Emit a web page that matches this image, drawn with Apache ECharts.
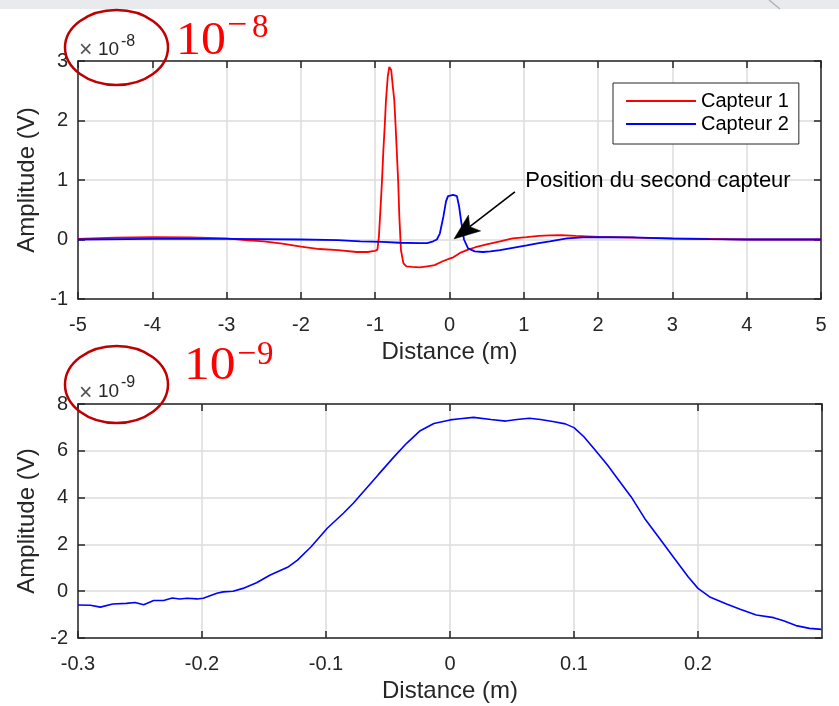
<!DOCTYPE html>
<html><head><meta charset="utf-8">
<script src="https://cdn.jsdelivr.net/npm/echarts@6/dist/echarts.min.js"></script>
<style>html,body{margin:0;padding:0;background:#fff}#c{width:839px;height:706px}</style>
</head><body><div id="c"></div>
<script>
// ---- data (top plot: amplitude in units of 1e-8 V) ----
const c1X = [-5, -4.5, -4, -3.5, -3, -2.75, -2.5, -2.25, -2, -1.75, -1.5, -1.25, -1.1, -1.03, -1.0, -0.97, -0.95, -0.935, -0.91, -0.89, -0.87, -0.855, -0.83, -0.81, -0.8, -0.785, -0.765, -0.743, -0.725, -0.71, -0.69, -0.675, -0.653, -0.62, -0.58, -0.5, -0.4, -0.3, -0.2, -0.1, 0, 0.05, 0.1, 0.15, 0.25, 0.35, 0.5, 0.68, 0.85, 1.04, 1.2, 1.35, 1.5, 1.7, 2.0, 2.5, 3.0, 3.5, 4.0, 4.5, 5.0];
const c1Y = [0.01, 0.03, 0.04, 0.035, 0.02, -0.01, -0.03, -0.07, -0.12, -0.16, -0.18, -0.21, -0.21, -0.195, -0.19, -0.17, 0.05, 0.38, 0.95, 1.5, 1.95, 2.34, 2.75, 2.9, 2.92, 2.85, 2.6, 2.34, 1.9, 1.5, 0.95, 0.38, -0.18, -0.4, -0.45, -0.46, -0.47, -0.45, -0.43, -0.37, -0.32, -0.3, -0.26, -0.22, -0.17, -0.13, -0.08, -0.03, 0.02, 0.04, 0.06, 0.07, 0.075, 0.06, 0.045, 0.03, 0.02, 0.01, 0.0, 0.0, 0.0];
const c2X = [-5, -4, -3, -2, -1.5, -1.2, -0.9, -0.67, -0.4, -0.3, -0.22, -0.17, -0.13, -0.083, -0.047, -0.02, 0.0, 0.05, 0.1, 0.13, 0.16, 0.195, 0.25, 0.34, 0.45, 0.55, 0.68, 0.85, 1.04, 1.2, 1.35, 1.58, 1.8, 2.03, 2.47, 3.0, 3.5, 4.0, 5.0];
const c2Y = [0.0, 0.01, 0.01, 0.0, -0.01, -0.03, -0.04, -0.055, -0.06, -0.06, -0.03, 0.0, 0.1, 0.38, 0.64, 0.73, 0.745, 0.75, 0.73, 0.55, 0.28, 0.0, -0.15, -0.2, -0.21, -0.2, -0.18, -0.14, -0.1, -0.06, -0.03, 0.02, 0.035, 0.04, 0.035, 0.015, 0.005, 0.0, 0.0];
// ---- data (bottom plot: amplitude in units of 1e-9 V) ----
const zoomX = [-0.3, -0.29, -0.282, -0.272, -0.261, -0.254, -0.247, -0.239, -0.231, -0.224, -0.218, -0.212, -0.204, -0.199, -0.188, -0.183, -0.175, -0.167, -0.156, -0.145, -0.131, -0.123, -0.112, -0.099, -0.086, -0.078, -0.069, -0.058, -0.045, -0.035, -0.024, -0.013, 0.0, 0.008, 0.019, 0.033, 0.045, 0.054, 0.064, 0.073, 0.084, 0.093, 0.1, 0.108, 0.116, 0.127, 0.135, 0.146, 0.157, 0.168, 0.181, 0.192, 0.2, 0.21, 0.223, 0.234, 0.247, 0.261, 0.269, 0.279, 0.29, 0.2995];
const zoomY = [-0.59, -0.6, -0.68, -0.55, -0.52, -0.48, -0.58, -0.4, -0.4, -0.29, -0.33, -0.3, -0.33, -0.3, -0.09, -0.03, 0.0, 0.12, 0.36, 0.69, 1.02, 1.33, 1.9, 2.69, 3.33, 3.76, 4.3, 4.97, 5.75, 6.32, 6.86, 7.17, 7.32, 7.37, 7.43, 7.34, 7.27, 7.34, 7.39, 7.34, 7.24, 7.15, 6.99, 6.6, 6.1, 5.39, 4.82, 4.04, 3.11, 2.33, 1.4, 0.62, 0.12, -0.26, -0.55, -0.77, -1.02, -1.13, -1.26, -1.47, -1.59, -1.63];
const seriesNames = ['Capteur 1', 'Capteur 2'];
const topExp = '-8', bottomExp = '-9';
const noteText = 'Position du second capteur';
const arrowTail = [0.88, 0.80], arrowTip = [0.06, 0.01], noteAnchor = [1.02, 0.98];

const FONT = "'Liberation Sans', Arial, Helvetica, sans-serif";
const INK = '#262626';
const pair = (xs, ys) => xs.map((x, i) => [x, ys[i]]);

function xAxes(gi, min, max, interval, showMax) {
  const line = { show: true, onZero: false, lineStyle: { color: INK, width: 1.5 } };
  const tick = { show: true, inside: true, length: 7, lineStyle: { color: INK, width: 1.5 } };
  return [{
    type: 'value', gridIndex: gi, position: 'bottom', min, max, interval,
    axisLine: line, axisTick: tick,
    axisLabel: { margin: 16, color: INK, fontSize: 20, fontFamily: FONT, showMinLabel: true, showMaxLabel: showMax, hideOverlap: false },
    splitLine: { show: true, lineStyle: { color: '#dcdcdc', width: 1.5 } },
    name: 'Distance (m)', nameLocation: 'middle', nameGap: 41,
    nameTextStyle: { fontSize: 24, color: INK, fontFamily: FONT }
  }, {
    type: 'value', gridIndex: gi, position: 'top', min, max, interval,
    axisLine: line, axisTick: tick, axisLabel: { show: false }, splitLine: { show: false }
  }];
}
function yAxes(gi, min, max, interval) {
  const line = { show: true, onZero: false, lineStyle: { color: INK, width: 1.5 } };
  const tick = { show: true, inside: true, length: 7, lineStyle: { color: INK, width: 1.5 } };
  return [{
    type: 'value', gridIndex: gi, position: 'left', min, max, interval,
    axisLine: line, axisTick: tick,
    axisLabel: { margin: 10, color: INK, fontSize: 20, fontFamily: FONT, showMinLabel: true, showMaxLabel: true, hideOverlap: false },
    splitLine: { show: true, lineStyle: { color: '#dcdcdc', width: 1.5 } },
    name: 'Amplitude (V)', nameLocation: 'middle', nameGap: 34,
    nameTextStyle: { fontSize: 24, color: INK, fontFamily: FONT }
  }, {
    type: 'value', gridIndex: gi, position: 'right', min, max, interval,
    axisLine: line, axisTick: tick, axisLabel: { show: false }, splitLine: { show: false }
  }];
}

const chart = echarts.init(document.getElementById('c'), null, { renderer: 'canvas' });
chart.setOption({
  animation: false,
  backgroundColor: '#ffffff',
  grid: [
    { left: 78, right: 18, top: 61, height: 238 },
    { left: 78, right: 17, top: 404, height: 234 }
  ],
  xAxis: [...xAxes(0, -5, 5, 1, true), ...xAxes(1, -0.3, 0.3, 0.1, false)],
  yAxis: [...yAxes(0, -1, 3, 1), ...yAxes(1, -2, 8, 2)],
  legend: {
    data: seriesNames, orient: 'vertical', left: 613, top: 83,
    padding: [8, 10, 10, 13], itemGap: 3, itemWidth: 70, itemHeight: 2, icon: 'rect',
    borderColor: INK, borderWidth: 1, backgroundColor: '#ffffff',
    textStyle: { fontSize: 20, color: '#000', fontFamily: FONT, lineHeight: 20 }
  },
  series: [
    { name: seriesNames[0], type: 'line', xAxisIndex: 0, yAxisIndex: 0, data: pair(c1X, c1Y), showSymbol: false, color: '#ff0000', lineStyle: { width: 1.8, color: '#ff0000' } },
    { name: seriesNames[1], type: 'line', xAxisIndex: 0, yAxisIndex: 0, data: pair(c2X, c2Y), showSymbol: false, color: '#0000ff', lineStyle: { width: 1.8, color: '#0000ff' } },
    { name: 'zoom', type: 'line', xAxisIndex: 2, yAxisIndex: 2, data: pair(zoomX, zoomY), showSymbol: false, color: '#0000ff', lineStyle: { width: 1.6, color: '#0000ff' } }
  ]
});

// ---- annotations ----
const P = (v) => chart.convertToPixel({ gridIndex: 0 }, v);
const tip = P(arrowTip), tail = P(arrowTail), note = P(noteAnchor);
const dx = tip[0] - tail[0], dy = tip[1] - tail[1], len = Math.hypot(dx, dy);
const ux = dx / len, uy = dy / len, nx = -uy, ny = ux;
const L = 26, W = 10, notch = 6;
const bx = tip[0] - ux * L, by = tip[1] - uy * L;
const head = [[tip[0], tip[1]], [bx + nx * W, by + ny * W], [tip[0] - ux * (L - notch), tip[1] - uy * (L - notch)], [bx - nx * W, by - ny * W]];

function txt(text, x, y, size, fam, fill, extra) {
  const el = { type: 'text', z: 100, silent: true, x, y, style: { text, x: 0, y: 0, font: size + 'px ' + fam, fill, align: 'left', verticalAlign: 'middle', textAlign: 'left', textVerticalAlign: 'middle' } };
  return Object.assign(el, extra || {});
}
const SERIF = "'Liberation Serif', 'Times New Roman', serif";
const g = [
  { type: 'rect', z: 100, silent: true, shape: { x: 0, y: 0, width: 839, height: 9 }, style: { fill: '#e9eaee' } },
  { type: 'line', z: 101, silent: true, shape: { x1: 769, y1: 0, x2: 780, y2: 9 }, style: { stroke: '#b4b4b4', lineWidth: 1.5 } },
  { type: 'ellipse', z: 100, silent: true, shape: { cx: 116.5, cy: 47.5, rx: 51.5, ry: 37.5 }, style: { fill: 'none', stroke: '#c00000', lineWidth: 2.5 } },
  { type: 'ellipse', z: 100, silent: true, shape: { cx: 116.5, cy: 384.5, rx: 51.5, ry: 38.5 }, style: { fill: 'none', stroke: '#c00000', lineWidth: 2.5 } },
  txt('×', 79, 51, 23, FONT, '#555'),
  txt('10', 98, 50, 19, FONT, INK),
  txt(topExp, 121, 42, 16, FONT, INK),
  txt('×', 79, 393.5, 23, FONT, '#555'),
  txt('10', 98, 391.5, 19, FONT, INK),
  txt(bottomExp, 121, 383, 16, FONT, INK),
  txt('10', 176, 42, 47, SERIF, '#ff0000', { scaleX: 1.06 }),
  txt('\u2212', 227, 26, 34, SERIF, '#ff0000', { scaleX: 1.05 }),
  txt(topExp.slice(1), 252, 28.5, 33, SERIF, '#ff0000'),
  txt('10', 184, 367, 47, SERIF, '#ff0000', { scaleX: 1.1 }),
  txt('\u2212', 237, 355, 34, SERIF, '#ff0000'),
  txt(bottomExp.slice(1), 257, 355, 33, SERIF, '#ff0000'),
  txt(noteText, note[0], note[1], 22, FONT, '#000'),
  { type: 'line', z: 100, silent: true, shape: { x1: tail[0], y1: tail[1], x2: head[2][0], y2: head[2][1] }, style: { stroke: '#000', lineWidth: 1.6 } },
  { type: 'polygon', z: 100, silent: true, shape: { points: head }, style: { fill: '#000', stroke: '#000', lineWidth: 0.5 } }
];
chart.setOption({ graphic: { elements: g } });
</script></body></html>
